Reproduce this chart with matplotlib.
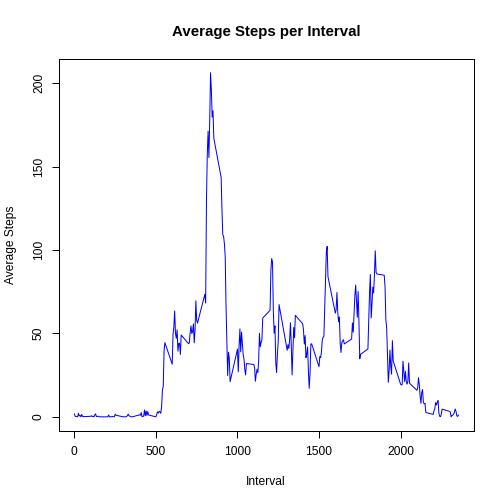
import numpy as np
import matplotlib
matplotlib.use("Agg")
import matplotlib.pyplot as plt

plt.rcParams['font.family'] = ['Liberation Sans', 'DejaVu Sans']

# intervals: hhmm codes, 5 min apart
hours = list(range(24))
minutes = list(range(0, 60, 5))
interval = [h * 100 + m for h in hours for m in minutes]

avg_steps = [
    1.717, 0.340, 0.132, 0.151, 0.075, 2.094, 0.528, 0.868, 0.000, 1.472, 0.302, 0.132,
    0.321, 0.679, 0.151, 0.340, 0.000, 1.113, 1.830, 0.170, 0.170, 0.377, 0.264, 0.000,
    0.000, 0.000, 1.132, 0.000, 0.000, 0.132, 0.000, 0.226, 0.000, 0.000, 1.547, 0.943,
    0.000, 0.000, 0.000, 0.000, 0.208, 0.623, 1.623, 0.585, 0.491, 0.075, 0.000, 0.000,
    1.189, 0.943, 2.566, 0.000, 0.340, 0.358, 4.113, 0.660, 3.491, 0.830, 3.113, 1.113,
    0.000, 1.566, 3.000, 2.245, 3.321, 2.962, 2.094, 6.057, 16.019, 18.340, 39.453, 44.491,
    31.491, 49.264, 53.774, 63.453, 49.962, 47.075, 52.151, 39.340, 44.019, 44.170, 37.358, 49.038,
    43.811, 44.377, 50.509, 54.509, 49.925, 50.981, 55.679, 44.321, 52.264, 69.547, 57.849, 56.151,
    73.377, 68.208, 129.434, 157.528, 171.151, 155.396, 177.302, 206.170, 195.925, 179.566, 183.396, 167.019,
    143.453, 124.038, 109.113, 108.113, 103.717, 95.962, 66.208, 45.226, 24.792, 38.755, 34.981, 21.057,
    40.566, 26.981, 42.415, 52.660, 38.925, 50.792, 44.283, 37.415, 34.698, 28.340, 25.094, 31.943,
    31.358, 29.679, 21.321, 25.547, 28.377, 26.472, 33.434, 49.981, 42.038, 44.604, 46.038, 59.189,
    63.868, 87.698, 94.849, 92.774, 63.396, 50.170, 54.472, 32.415, 26.528, 37.736, 45.057, 67.283,
    42.340, 39.887, 43.264, 40.981, 46.245, 56.434, 42.755, 25.132, 39.962, 53.547, 47.321, 60.811,
    55.755, 51.962, 43.585, 48.698, 35.472, 37.547, 41.849, 27.509, 17.113, 26.075, 43.623, 43.774,
    30.019, 36.075, 35.491, 38.849, 45.962, 47.755, 48.132, 65.321, 82.906, 98.660, 102.113, 83.962,
    62.132, 64.132, 74.547, 63.170, 56.906, 59.774, 43.868, 38.566, 44.660, 45.453, 46.208, 43.679,
    46.623, 56.302, 50.717, 61.226, 72.717, 78.943, 68.943, 59.660, 75.094, 56.509, 34.774, 37.453,
    40.679, 58.019, 74.698, 85.321, 59.264, 67.774, 77.698, 74.245, 85.340, 99.453, 86.585, 85.604,
    84.868, 77.830, 58.038, 53.358, 36.321, 20.717, 27.396, 40.019, 30.208, 25.547, 45.660, 33.528,
    19.623, 19.019, 19.340, 33.340, 26.811, 21.170, 27.302, 21.340, 19.547, 21.321, 32.302, 20.151,
    15.943, 17.226, 23.453, 19.245, 12.453, 8.019, 14.660, 16.302, 8.679, 7.792, 8.132, 2.623,
    1.453, 3.679, 4.811, 8.509, 7.075, 8.698, 9.755, 2.208, 0.321, 0.113, 1.604, 4.604,
    3.302, 2.849, 0.000, 0.830, 0.962, 1.585, 2.604, 4.698, 3.302, 0.642, 0.226, 1.075,
]

x_ticks = [0, 500, 1000, 1500, 2000]
y_ticks = [0, 50, 100, 150, 200]

W = 504.0
fig = plt.figure(figsize=(7, 7), dpi=72)
ax = fig.add_axes([59 / W, 73.4 / W, (473.8 - 59) / W, (430.6 - 59) / W])

ax.plot(interval, avg_steps, color='blue', linewidth=1.0)

# R style 4% padding
xr = max(interval) - min(interval)
yr = max(avg_steps) - min(avg_steps)
ax.set_xlim(min(interval) - 0.04 * xr, max(interval) + 0.04 * xr)
ax.set_ylim(min(avg_steps) - 0.04 * yr, max(avg_steps) + 0.04 * yr)

ax.set_xticks(x_ticks)
ax.set_yticks(y_ticks)
ax.set_yticklabels([str(v) for v in y_ticks], rotation=90, va='center')
ax.tick_params(direction='out', length=7, width=1, labelsize=12, colors='black')
ax.tick_params(axis='x', pad=8)
ax.tick_params(axis='y', pad=7)
for s in ax.spines.values():
    s.set_linewidth(1)
    s.set_color('black')

fig.text(266 / W, 1 - 32 / W, "Average Steps per Interval", ha='center', va='center',
         fontsize=15, fontweight='bold')
fig.text(266 / W, 1 - 482 / W, "Interval", ha='center', va='center', fontsize=12)
fig.text(11 / W, 1 - 245 / W, "Average Steps", ha='center', va='center', fontsize=12,
         rotation=90)

fig.savefig("out.png", dpi=72)
